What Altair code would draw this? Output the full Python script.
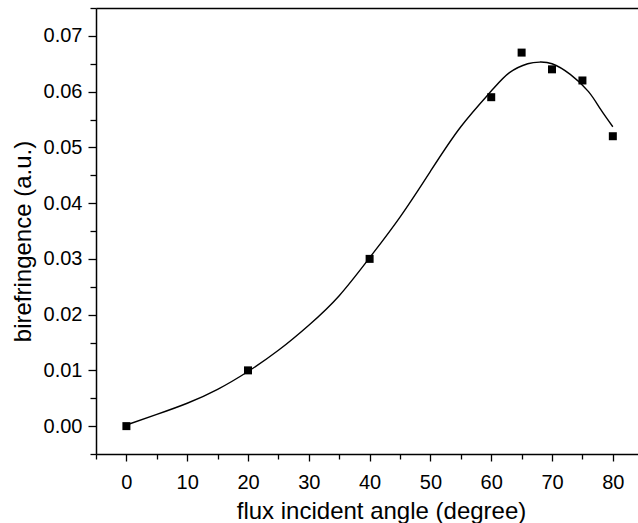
import altair as alt
import pandas as pd

# measured points
angle = [0, 20, 40, 60, 65, 70, 75, 80]
biref = [0.000, 0.010, 0.030, 0.059, 0.067, 0.064, 0.062, 0.052]

# fitted curve
fit_x = [0, 5, 10, 15, 20, 25, 30, 35, 40, 45, 50, 55, 60, 63, 66, 68, 70, 73, 76, 78, 80]
fit_y = [0.0002, 0.0021, 0.0041, 0.0066, 0.0098, 0.0136, 0.0181, 0.0234, 0.0302, 0.0375,
         0.0457, 0.0537, 0.0601, 0.0634, 0.0650, 0.0653, 0.0650, 0.0631, 0.0600, 0.0568, 0.0537]

x_ticks = [-5, 0, 5, 10, 15, 20, 25, 30, 35, 40, 45, 50, 55, 60, 65, 70, 75, 80]
y_ticks = [-0.005, 0.0, 0.005, 0.01, 0.015, 0.02, 0.025, 0.03, 0.035, 0.04, 0.045,
           0.05, 0.055, 0.06, 0.065, 0.07, 0.075]

pts = pd.DataFrame({"x": angle, "y": biref})
fit = pd.DataFrame({"x": fit_x, "y": fit_y})

FONT = "Liberation Sans"
xscale = alt.Scale(domain=[-5, 84.14], nice=False, zero=False)
yscale = alt.Scale(domain=[-0.005, 0.075], nice=False, zero=False)

x_major = "abs(datum.value % 10) < 1e-6 && datum.value >= 0"
y_major = "abs(datum.value*100 - round(datum.value*100)) < 1e-6"

x_axis = alt.Axis(
    orient="bottom", values=x_ticks, grid=False,
    labelExpr=f"({x_major}) ? datum.label : ''",
    tickSize={"condition": {"test": x_major, "value": 7}, "value": 5},
    labelPadding=11, labelFontSize=20, labelFont=FONT, labelColor="black",
    labelFlush=False, labelOverlap=False,
    title="flux incident angle (degree)", titleFontSize=24, titleFont=FONT,
    titleFontWeight="normal", titleColor="black",
    titleX=285, titleY=64, titleBaseline="alphabetic", titleAlign="center",
    domainColor="black", domainWidth=1.5, tickColor="black", tickWidth=1.3,
)
y_axis = alt.Axis(
    orient="left", values=y_ticks, grid=False, format=".2f",
    labelExpr=f"({y_major}) ? datum.label : ''",
    tickSize={"condition": {"test": y_major, "value": 8}, "value": 6},
    labelPadding=6, labelFontSize=20, labelFont=FONT, labelColor="black",
    labelFlush=False, labelOverlap=False,
    title="birefringence (a.u.)", titleFontSize=24, titleFont=FONT,
    titleFontWeight="normal", titleColor="black",
    titleX=-66, titleY=233, titleBaseline="alphabetic", titleAlign="center",
    titleAngle=270,
    domainColor="black", domainWidth=1.5, tickColor="black", tickWidth=1.3,
)
top_axis = alt.Axis(orient="top", labels=False, ticks=False, grid=False, title=None,
                    domainColor="black", domainWidth=1.5)

curve = alt.Chart(fit).mark_line(color="black", strokeWidth=1.4, interpolate="natural").encode(
    x=alt.X("x:Q", scale=xscale, axis=top_axis),
    y=alt.Y("y:Q", scale=yscale, axis=y_axis),
)
points = alt.Chart(pts).mark_point(shape="square", filled=True, color="black", size=64, opacity=1).encode(
    x=alt.X("x:Q", scale=xscale, axis=x_axis),
    y=alt.Y("y:Q", scale=yscale, axis=y_axis),
)

chart = alt.layer(curve, points).resolve_axis(x="independent").properties(
    width=542, height=446,
    autosize=alt.AutoSizeParams(type="none"),
    padding={"left": 96, "top": 8, "right": 0, "bottom": 69},
    background="white",
).configure_view(stroke=None)

chart.save("out.html", embed_options={"renderer": "svg", "actions": False})
